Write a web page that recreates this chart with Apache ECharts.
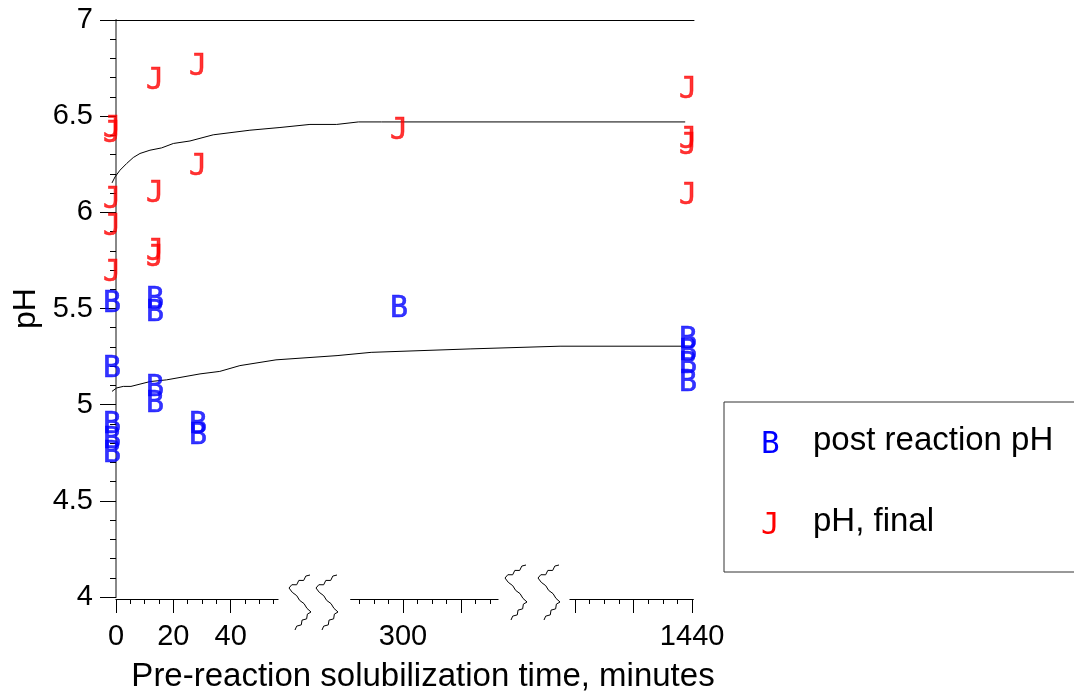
<!DOCTYPE html>
<html><head><meta charset="utf-8">
<script src="https://cdn.jsdelivr.net/npm/echarts@6/dist/echarts.min.js"></script>
<style>html,body{margin:0;padding:0;background:#fff}#c{width:1074px;height:698px}</style>
</head><body><div id="c"></div>
<script>
// ---------------- DATA ----------------
const postName = 'post reaction pH';
const finalName = 'pH, final';
// minutes of pre-reaction solubilization
const postX  = [0, 0, 0, 0, 0, 15, 15, 15, 15, 30, 30, 300, 1440, 1440, 1440, 1440];
const postY  = [5.55, 5.21, 4.92, 4.84, 4.77, 5.57, 5.50, 5.11, 5.03, 4.92, 4.86, 5.52, 5.36, 5.30, 5.23, 5.14];
const finalX = [0, 0, 0, 0, 0, 15, 15, 15, 15, 30, 30, 300, 1440, 1440, 1440, 1440];
const finalY = [6.46, 6.43, 6.09, 5.95, 5.71, 6.71, 6.12, 5.82, 5.79, 6.78, 6.26, 6.45, 6.66, 6.40, 6.37, 6.11];
// smoothed fit curves
const upperX = [0, 1.05, 2.79, 5.12, 7.42, 9.76, 13.24, 17.3, 21.4, 27.2, 35.3, 48.1, 75, 168, 251, 286, 294, 1439];
const upperY = [6.153, 6.184, 6.219, 6.254, 6.285, 6.306, 6.323, 6.335, 6.358, 6.371, 6.403, 6.427, 6.441, 6.457, 6.457, 6.470, 6.470, 6.470];
const lowerX = [0, 1.64, 3.94, 6.62, 13.24, 19.06, 30.7, 37.6, 44.6, 62.7, 252, 290.4, 324.8, 1310, 1439];
const lowerY = [5.069, 5.087, 5.095, 5.095, 5.120, 5.129, 5.160, 5.173, 5.203, 5.233, 5.255, 5.272, 5.290, 5.304, 5.304];
// tick values of the three axis pieces
const seg1Major = [0, 20, 40];
const seg1Minor = [5, 10, 15, 25, 30, 35, 45, 50, 55];
const seg1Labels = [0, 20, 40];
const seg2Major = [300, 320];
const seg2Minor = [285, 290, 295, 305, 310, 315, 325, 330];
const seg2Labels = [300];
const seg3Major = [1400, 1420, 1440];
const seg3Minor = [1405, 1410, 1415, 1425, 1430, 1435];
const seg3Labels = [1440];
const yTitle = 'pH';
const xTitle = 'Pre-reaction solubilization time, minutes';

// ---------------- LAYOUT ----------------
const PLOT = {left: 116, top: 20, right: 694, bottom: 597};
const SEGS = [
  {m0: 0, m1: 56.5, p0: 116, p1: 278, major: seg1Major, minor: seg1Minor, labels: seg1Labels},
  {m0: 281.97, m1: 332.76, p0: 350.7, p1: 498, major: seg2Major, minor: seg2Minor, labels: seg2Labels},
  {m0: 1398.3, m1: 1440.4, p0: 570, p1: 693.3, major: seg3Major, minor: seg3Minor, labels: seg3Labels}
];
const DATA_SHIFT = -4;
const W = PLOT.right - PLOT.left, H = PLOT.bottom - PLOT.top;
const TXT = 'Liberation Sans, Arial, sans-serif';
const MARK = 'DejaVu Sans Mono, monospace';

// broken-axis scale: minutes -> axis units
function toAxis(m) {
  for (let i = 0; i < SEGS.length; i++) {
    const s = SEGS[i];
    if (m <= s.m1 || i === SEGS.length - 1) {
      if (m >= s.m0 || i === 0) return s.p0 + (m - s.m0) / (s.m1 - s.m0) * (s.p1 - s.p0) - PLOT.left;
      const pr = SEGS[i - 1];
      return pr.p1 + (m - pr.m1) / (s.m0 - pr.m1) * (s.p0 - pr.p1) - PLOT.left;
    }
  }
}
const pairs = (xs, ys) => xs.map((x, i) => [toAxis(x), ys[i]]);

const grids = [
  {left: PLOT.left + DATA_SHIFT, top: PLOT.top, width: W, height: H},
  {left: PLOT.left, top: PLOT.top, width: W, height: H}
];
const xAxes = [
  {gridIndex: 0, type: 'value', min: 0, max: W, show: false},
  {gridIndex: 1, type: 'value', position: 'top', min: 0, max: 1,
   axisLine: {show: true, lineStyle: {color: '#000', width: 1}}, axisTick: {show: false}, axisLabel: {show: false}, splitLine: {show: false}},
  {gridIndex: 1, type: 'value', position: 'bottom', min: 0, max: 1,
   axisLine: {show: false}, axisTick: {show: false}, axisLabel: {show: false}, splitLine: {show: false},
   name: xTitle, nameLocation: 'middle', nameGap: 63,
   nameTextStyle: {fontSize: 33, fontFamily: TXT, color: '#000', padding: [0, 0, 0, 36]}}
];
const yAxes = [
  {gridIndex: 0, type: 'value', min: 4, max: 7, show: false},
  {gridIndex: 1, type: 'value', position: 'left', min: 4, max: 7, interval: 0.5,
   axisLine: {show: true, lineStyle: {color: '#000', width: 1}},
   axisTick: {show: true, inside: false, length: 16, lineStyle: {color: '#000'}},
   minorTick: {show: true, splitNumber: 5, length: 6, lineStyle: {color: '#000'}},
   axisLabel: {fontSize: 29, fontFamily: TXT, color: '#000', margin: 23},
   splitLine: {show: false}, minorSplitLine: {show: false},
   name: yTitle, nameLocation: 'middle', nameGap: 73, nameRotate: 90,
   nameTextStyle: {fontSize: 32, fontFamily: TXT, color: '#000'}},
  {gridIndex: 1, type: 'value', position: 'right', min: 4, max: 7,
   axisLine: {show: true, lineStyle: {color: '#888', width: 2}}, axisTick: {show: false}, axisLabel: {show: false}, splitLine: {show: false}}
];
SEGS.forEach((s, i) => {
  const g = grids.length;
  grids.push({left: s.p0, width: s.p1 - s.p0, top: PLOT.bottom, height: 2});
  yAxes.push({gridIndex: g, type: 'value', show: false, min: 0, max: 1});
  xAxes.push({gridIndex: g, type: 'value', position: 'top', min: s.m0, max: s.m1,
    axisLine: {show: true, lineStyle: {color: '#999', width: 1}}, axisTick: {show: false}, axisLabel: {show: false}, splitLine: {show: false}});
  xAxes.push({gridIndex: g, type: 'value', position: 'bottom', min: s.m0, max: s.m1,
    axisLine: {show: true, lineStyle: {color: '#000', width: 1}},
    axisTick: {show: true, customValues: s.major, length: 14, lineStyle: {color: '#000'}},
    axisLabel: {show: true, customValues: s.labels, fontSize: 29, fontFamily: TXT, color: '#000', margin: 23,
                formatter: v => String(v)},
    splitLine: {show: false}});
  xAxes.push({gridIndex: g, type: 'value', position: 'bottom', min: s.m0, max: s.m1,
    axisLine: {show: false},
    axisTick: {show: true, customValues: s.minor, length: 5, lineStyle: {color: '#000'}},
    axisLabel: {show: false}, splitLine: {show: false}});
});

// axis-break zigzag decoration
const BREAK_SHAPE = [[0, 0], [-21, 13], [1, 37], [-15, 55]];
const BREAK_ANCHORS = [[310, 575], [337, 575], [526, 565], [559, 565]];
function zig(anchor) {
  const pts = [];
  for (let k = 0; k < BREAK_SHAPE.length - 1; k++) {
    const a = BREAK_SHAPE[k], b = BREAK_SHAPE[k + 1];
    const n = 6;
    const dx = b[0] - a[0], dy = b[1] - a[1];
    const len = Math.hypot(dx, dy);
    const nx = -dy / len, ny = dx / len;
    for (let j = 0; j < n; j++) {
      const t = j / n;
      const w = (j % 2 ? 1.3 : -1.3) * (k === 1 ? 0.4 : 1);
      pts.push([anchor[0] + a[0] + dx * t + nx * w * (j ? 1 : 0), anchor[1] + a[1] + dy * t + ny * w * (j ? 1 : 0)]);
    }
  }
  const l = BREAK_SHAPE[BREAK_SHAPE.length - 1];
  pts.push([anchor[0] + l[0], anchor[1] + l[1]]);
  return {type: 'polyline', shape: {points: pts}, style: {stroke: '#000', lineWidth: 1, fill: null}, silent: true};
}

const markLabel = (txt, color) => ({show: true, position: 'inside', formatter: txt, color: color,
  fontSize: 30, fontFamily: MARK, offset: [0, 5], textBorderColor: color, textBorderWidth: 0.6});

const option = {
  animation: false,
  backgroundColor: '#fff',
  grid: grids,
  xAxis: xAxes,
  yAxis: yAxes,
  legend: {
    orient: 'vertical', left: 724, top: 402,
    icon: 'none', itemWidth: 0, itemHeight: 10, itemGap: 45,
    padding: [22, 60, 31, 32],
    borderColor: '#333', borderWidth: 1, borderRadius: 0,
    data: [postName, finalName],
    formatter: n => (n === postName ? '{b|B}' : '{j|J}') + n,
    textStyle: {fontSize: 33, fontFamily: TXT, color: '#000',
      rich: {
        b: {color: '#0000ff', fontFamily: MARK, fontSize: 31, width: 52, padding: [8, 0, 0, 0]},
        j: {color: '#ff0000', fontFamily: MARK, fontSize: 31, width: 52, padding: [8, 0, 0, 0]}
      }}
  },
  graphic: BREAK_ANCHORS.map(zig),
  series: [
    {type: 'line', xAxisIndex: 0, yAxisIndex: 0, data: pairs(upperX, upperY), symbol: 'none', silent: true,
     lineStyle: {color: '#000', width: 1}, z: 1},
    {type: 'line', xAxisIndex: 0, yAxisIndex: 0, data: pairs(lowerX, lowerY), symbol: 'none', silent: true,
     lineStyle: {color: '#000', width: 1}, z: 1},
    {name: postName, type: 'scatter', xAxisIndex: 0, yAxisIndex: 0, data: pairs(postX, postY),
     symbol: 'circle', symbolSize: 2, itemStyle: {color: 'rgba(0,0,0,0)'}, label: markLabel('B', '#0000ff'),
     emphasis: {disabled: true}, silent: true, z: 3},
    {name: finalName, type: 'scatter', xAxisIndex: 0, yAxisIndex: 0, data: pairs(finalX, finalY),
     symbol: 'circle', symbolSize: 2, itemStyle: {color: 'rgba(0,0,0,0)'}, label: markLabel('J', '#ff0000'),
     emphasis: {disabled: true}, silent: true, z: 3}
  ]
};
const chart = echarts.init(document.getElementById('c'), null, {renderer: 'canvas'});
chart.setOption(option);
</script>
</body></html>
